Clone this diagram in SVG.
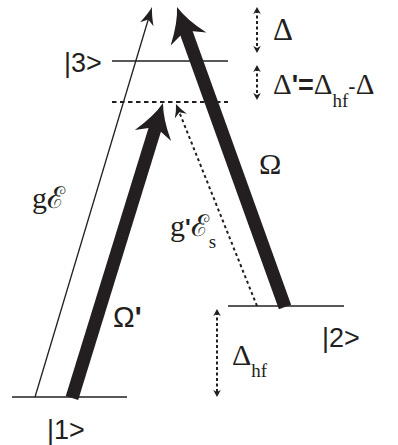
<svg xmlns="http://www.w3.org/2000/svg" width="398" height="445" viewBox="0 0 398 445">
<style>
.lvl{stroke:#231f20;stroke-width:1.5;fill:none}
.dash{stroke:#231f20;stroke-width:1.8;stroke-dasharray:4.5 3.5;fill:none}
.thin{stroke:#231f20;stroke-width:1.3;fill:none}
.thick{stroke:#231f20;stroke-width:13;fill:none}
.dot{stroke:#231f20;stroke-width:2;stroke-dasharray:3 3;fill:none}
.dbl{stroke:#231f20;stroke-width:2;stroke-dasharray:3 2.5;fill:none}
.sans{font-family:"Liberation Sans",Arial,sans-serif;fill:#231f20}
.serif{font-family:"Liberation Serif","DejaVu Serif",serif;fill:#231f20}
.hd{fill:#231f20;stroke:none}
</style>
<defs>
<marker id="hThin" markerUnits="userSpaceOnUse" orient="auto" refX="-11" refY="0" markerWidth="1" markerHeight="1" overflow="visible"><path class="hd" d="M0,0 Q-8,-2 -18,-7 L-13,0 L-18,7 Q-8,2 0,0Z"/></marker>
<marker id="hThick" markerUnits="userSpaceOnUse" orient="auto" refX="-20" refY="0" markerWidth="1" markerHeight="1" overflow="visible"><path class="hd" d="M0,0 Q-15,-4.5 -34,-19 L-25,0 L-34,19 Q-15,4.5 0,0Z"/></marker>
<marker id="hDot" markerUnits="userSpaceOnUse" orient="auto" refX="-7" refY="0" markerWidth="1" markerHeight="1" overflow="visible"><path class="hd" d="M0,0 Q-6,-2 -13,-6.5 L-9,0 L-13,6.5 Q-6,2 0,0Z"/></marker>
<marker id="hSm" markerUnits="userSpaceOnUse" orient="auto-start-reverse" refX="-3" refY="0" markerWidth="1" markerHeight="1" overflow="visible"><path class="hd" d="M0,0 L-7,-3.8 L-5,0 L-7,3.8Z"/></marker>
</defs>

<g id="level3"><line class="lvl" x1="112" y1="61" x2="228" y2="61"/><text class="sans" x="64" y="72" font-size="27">|3&gt;</text></g>
<g id="virtual"><line class="dash" x1="112" y1="102" x2="228" y2="102"/></g>
<g id="level2"><line class="lvl" x1="228" y1="306" x2="344" y2="306"/><text class="sans" x="322" y="347" font-size="27">|2&gt;</text></g>
<g id="level1"><line class="lvl" x1="12" y1="397" x2="127" y2="397"/><text class="sans" x="47" y="439" font-size="27">|1&gt;</text></g>

<g id="connectors">
<path id="gE" class="thin" d="M35,397 L148.84,17.54" marker-end="url(#hThin)"/>
<path id="Omega" class="thick" d="M285,307 L183.78,25.82" marker-end="url(#hThick)"/>
<path id="OmegaP" class="thick" d="M72,398 L157.1,122.1" marker-end="url(#hThick)"/>
<path id="gEs" class="dot" d="M257,306 L178.6,110.5" marker-end="url(#hDot)"/>
<path id="dDelta" class="dbl" d="M257,10 L257,50" marker-start="url(#hSm)" marker-end="url(#hSm)"/>
<path id="dDeltaP" class="dbl" d="M257,68 L257,97" marker-start="url(#hSm)" marker-end="url(#hSm)"/>
<path id="dDeltaHf" class="dbl" d="M217,312 L217,394" marker-start="url(#hSm)" marker-end="url(#hSm)"/>
</g>

<g id="labels">
<text class="serif" x="273" y="40" font-size="31">Δ</text>
<text class="serif" x="273" y="94" font-size="29">Δ<tspan class="sans" font-weight="bold" font-size="27">'=</tspan>Δ<tspan font-size="19" dy="13">hf</tspan><tspan class="sans" font-size="22" dy="-13">-</tspan>Δ</text>
<text class="serif" x="259" y="174" font-size="30">Ω</text>
<text class="sans" x="113" y="327" font-size="29">Ω<tspan font-weight="bold">'</tspan></text>
<text class="serif" x="32" y="208" font-size="30">gℰ</text>
<text class="serif" x="170" y="236" font-size="30">g<tspan class="sans" font-weight="bold" font-size="24">'</tspan>ℰ<tspan font-size="19" dy="12">s</tspan></text>
<text class="serif" x="232" y="365" font-size="30">Δ<tspan font-size="19" dy="12">hf</tspan></text>
</g>
</svg>
